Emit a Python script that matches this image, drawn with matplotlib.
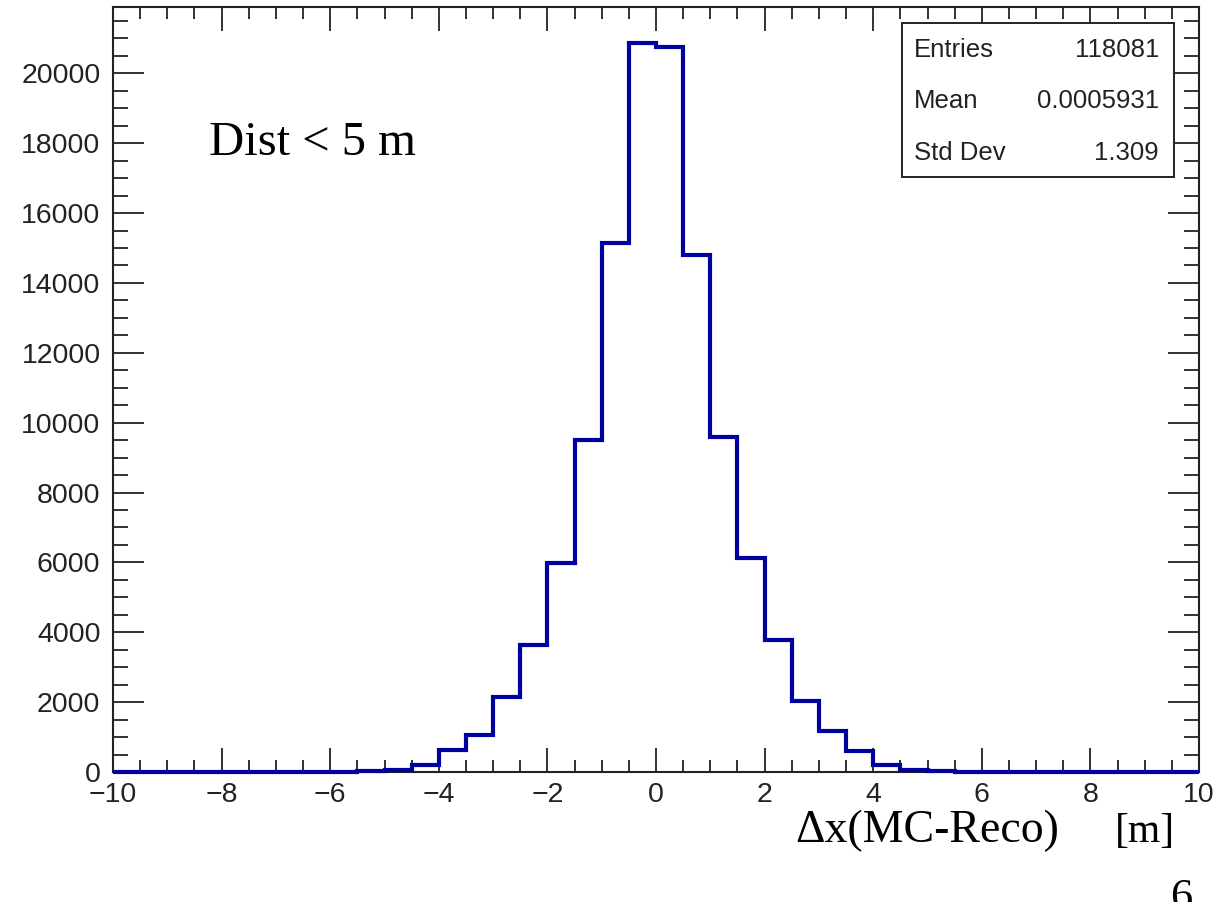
import numpy as np
import matplotlib.pyplot as plt
from matplotlib.ticker import MultipleLocator

#bin edges and counts
edges = np.arange(-10, 10.01, 0.5)
counts = [0, 0, 0, 1, 1, 2, 3, 6, 10, 18,
          60, 200, 630, 1060, 2150, 3640, 5990, 9500, 15130, 20855,
          20760, 14790, 9590, 6130, 3780, 2040, 1170, 610, 200, 50,
          15, 8, 4, 2, 1, 1, 0, 0, 0, 0]

stat_names = ['Entries', 'Mean', 'Std Dev']
stat_values = ['118081', '0.0005931', '1.309']

W, H = 1231, 902
fig = plt.figure(figsize=(W / 100, H / 100), dpi=100)
ax = fig.add_axes([113 / W, 1 - 772 / H, (1199 - 113) / W, (772 - 7) / H])

ax.stairs(counts, edges, color='#0000a0', lw=3, clip_on=False, zorder=3)
ax.set_xlim(-10, 10)
ax.set_ylim(0, max(counts) * 1.05)

ax.xaxis.set_major_locator(MultipleLocator(2))
ax.xaxis.set_minor_locator(MultipleLocator(0.5))
ax.yaxis.set_major_locator(MultipleLocator(2000))
ax.yaxis.set_minor_locator(MultipleLocator(500))
ax.tick_params(axis='both', which='both', direction='in', top=True, right=True,
               color='#222222', width=1.3, labelcolor='#222222', labelsize=20.5)
ax.tick_params(axis='x', which='major', length=17, pad=7)
ax.tick_params(axis='x', which='minor', length=8.5)
ax.tick_params(axis='y', which='major', length=22, pad=9)
ax.tick_params(axis='y', which='minor', length=10.5)
for lab in ax.get_xticklabels() + ax.get_yticklabels():
    lab.set_family('Liberation Sans')
for s in ax.spines.values():
    s.set_linewidth(1.5)
    s.set_color('#222222')

#stats box
fig.patches.append(plt.Rectangle((902 / W, 1 - 177 / H), (1174 - 902) / W, (177 - 23) / H,
                                 transform=fig.transFigure, fill=True, fc='white',
                                 ec='#222222', lw=1.4, zorder=5))
for i, (n, v) in enumerate(zip(stat_names, stat_values)):
    yb = 1 - (57 + 51.5 * i) / H
    fig.text(914 / W, yb, n, fontsize=18.5, family='Liberation Sans', color='#222222',
             va='baseline', zorder=6)
    fig.text(1159 / W, yb, v, fontsize=18.5, family='Liberation Sans', color='#222222',
             va='baseline', ha='right', zorder=6)

fig.text(209 / W, 1 - 155 / H, 'Dist < 5 m', fontsize=35, family='Liberation Serif',
         va='baseline')
fig.text(795 / W, 1 - 842 / H, 'Δx(MC-Reco)', fontsize=33, family='Liberation Serif',
         va='baseline')
fig.text(1115 / W, 1 - 842 / H, '[m]', fontsize=30, family='Liberation Serif',
         va='baseline')
fig.text(1170 / W, 1 - 909 / H, '6', fontsize=32, family='Liberation Serif',
         va='baseline')

plt.savefig('out.png', dpi=100)
